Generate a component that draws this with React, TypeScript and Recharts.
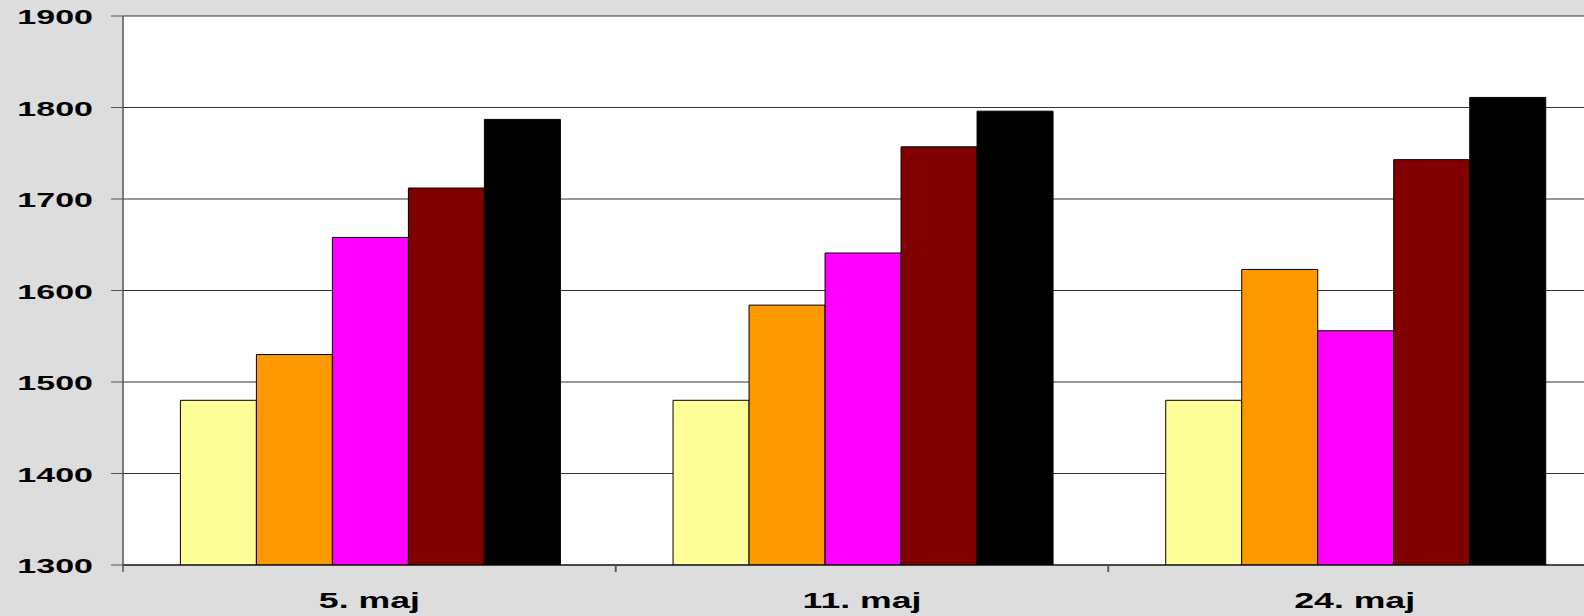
import React from "react";
import { BarChart, Bar, XAxis, YAxis, CartesianGrid } from "recharts";

const categories = ["5. maj", "11. maj", "24. maj"];
const seriesA = [1480, 1480, 1480];
const seriesB = [1530, 1584, 1623];
const seriesC = [1658, 1641, 1556];
const seriesD = [1712, 1757, 1743];
const seriesE = [1787, 1796, 1811];
const yTicks = [1300, 1400, 1500, 1600, 1700, 1800, 1900];

const data = categories.map((c, i) => ({
  name: c,
  a: seriesA[i],
  b: seriesB[i],
  c: seriesC[i],
  d: seriesD[i],
  e: seriesE[i],
}));

const FONT = "'Liberation Sans', Arial, sans-serif";
const SX = 1.62;
const X_TICK_SIZE = 7;
const X_TICK_MARGIN = 2;

const YTick = (props: any) => {
  const { x, y, payload } = props;
  return (
    <g transform={`translate(${x},${y})`}>
      <text
        transform={`scale(${SX},1)`}
        textAnchor="end"
        dy={8}
        fontFamily={FONT}
        fontWeight="bold"
        fontSize={21}
        fill="#000"
      >
        {payload.value}
      </text>
    </g>
  );
};

const XTick = (props: any) => {
  const { x, y, payload, width, visibleTicksCount } = props;
  const half =
    payload && typeof payload.offset === "number" && payload.offset > 0
      ? payload.offset
      : width / (visibleTicksCount || 3) / 2;
  const top = y - X_TICK_MARGIN - X_TICK_SIZE;
  const bottom = y - X_TICK_MARGIN;
  return (
    <g>
      <line x1={x - half} x2={x - half} y1={top} y2={bottom} stroke="#555" strokeWidth={1.5} />
      <line x1={x + half} x2={x + half} y1={top} y2={bottom} stroke="#555" strokeWidth={1.5} />
      <g transform={`translate(${x},${y})`}>
        <text
          transform={`scale(${SX},1)`}
          textAnchor="middle"
          dy={34}
          fontFamily={FONT}
          fontWeight="bold"
          fontSize={22}
          fill="#000"
        >
          {payload.value}
        </text>
      </g>
    </g>
  );
};

export default function App() {
  return (
    <div
      style={{
        position: "fixed",
        left: 0,
        top: 0,
        width: 1584,
        height: 616,
        overflow: "hidden",
        background: "#DDDDDD",
      }}
    >
      <BarChart
        width={1620}
        height={616}
        data={data}
        margin={{ top: 16, right: 19, left: 0, bottom: 0 }}
        barCategoryGap="11.65%"
        barGap={0}
      >
        <CartesianGrid
          vertical={false}
          stroke="#333"
          fill="#FFFFFF"
          strokeDasharray=""
        />
        <XAxis
          dataKey="name"
          height={51}
          tickSize={X_TICK_SIZE}
          tickMargin={X_TICK_MARGIN}
          axisLine={{ stroke: "#000", strokeWidth: 1 }}
          tickLine={{ stroke: "none" }}
          tick={(p: any) => <XTick {...p} />}
          interval={0}
        />
        <YAxis
          width={123}
          domain={[1300, 1900]}
          ticks={yTicks}
          tickSize={12}
          tickMargin={18}
          axisLine={{ stroke: "#555", strokeWidth: 1.5 }}
          tickLine={{ stroke: "#555" }}
          tick={(p: any) => <YTick {...p} />}
          allowDataOverflow
          interval={0}
        />
        <Bar dataKey="a" fill="#FFFF99" stroke="#000" strokeWidth={1} isAnimationActive={false} />
        <Bar dataKey="b" fill="#FF9900" stroke="#000" strokeWidth={1} isAnimationActive={false} />
        <Bar dataKey="c" fill="#FF00FF" stroke="#000" strokeWidth={1} isAnimationActive={false} />
        <Bar dataKey="d" fill="#800000" stroke="#000" strokeWidth={1} isAnimationActive={false} />
        <Bar dataKey="e" fill="#000000" stroke="#000" strokeWidth={1} isAnimationActive={false} />
      </BarChart>
    </div>
  );
}
